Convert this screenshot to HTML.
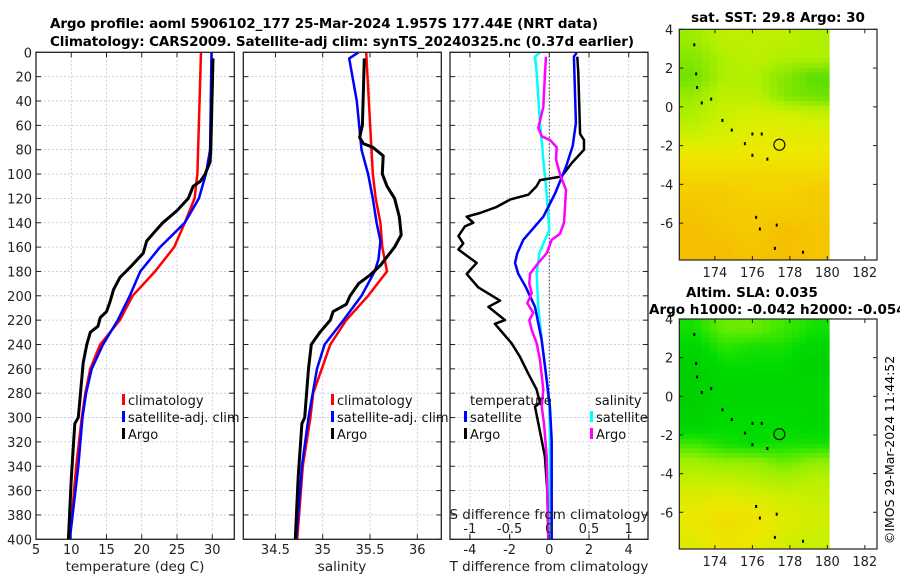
<!DOCTYPE html>
<html><head><meta charset="utf-8"><style>
html,body{margin:0;padding:0;background:#fff;}
svg{display:block;font-family:"DejaVu Sans","Liberation Sans",sans-serif;}
</style></head><body>
<svg id="fig" width="900" height="580" viewBox="0 0 900 580" xmlns="http://www.w3.org/2000/svg">
<rect width="900" height="580" fill="#fff"/>
<text x="324" y="28" font-size="13.5" font-weight="bold" text-anchor="middle" textLength="548">Argo profile: aoml 5906102_177 25-Mar-2024 1.957S 177.44E (NRT data)</text>
<text x="342" y="46" font-size="13.5" font-weight="bold" text-anchor="middle" textLength="584">Climatology: CARS2009. Satellite-adj clim: synTS_20240325.nc (0.37d earlier)</text>
<g id="panels"></g>
<g id="maps"></g>
<text transform="translate(894,450) rotate(-90)" font-size="12.5" text-anchor="middle">©IMOS 29-Mar-2024 11:44:52</text>
</svg>
<script>
// ---------- data ----------
const depthTicks=[0,20,40,60,80,100,120,140,160,180,200,220,240,260,280,300,320,340,360,380,400];
const tTicks=[5,10,15,20,25,30];
const sTicks=[34.5,35,35.5,36];
const dTTicks=[-4,-2,0,2,4];
const dSTicks=[-1,-0.5,0,0.5,1];
const dSTickLabels=["-1","-0.5","0","0.5","1"];

const climT_depth=[0,100,120,140,160,180,200,220,240,260,280,300,340,400];
const climT_vals=[28.4,27.9,27.5,26.1,24.6,21.9,18.7,16.9,14.1,12.7,12.0,11.5,10.7,9.8];
const satT_depth=[0,80,100,120,140,160,180,200,220,240,260,280,300,340,400];
const satT_vals=[29.9,29.7,29.1,28.1,26.1,22.6,19.8,18.3,16.6,14.5,12.9,12.1,11.6,11.0,9.8];
const argoT_depth=[5,80,90,100,106,110,120,130,140,145,155,165,175,185,195,205,213,218,225,230,240,255,300,305,350,400];
const argoT_vals=[30.1,29.8,29.7,29.0,28.3,27.3,26.6,25.0,23.0,22.2,20.7,20.2,18.6,16.9,16.0,15.5,15.0,14.1,13.8,12.7,12.2,11.7,11.0,10.5,10.0,9.6];

const climS_depth=[0,100,120,140,160,180,200,220,240,260,280,300,340,400];
const climS_vals=[35.46,35.53,35.56,35.61,35.63,35.68,35.48,35.25,35.08,34.99,34.90,34.87,34.79,34.73];
const satS_depth=[0,5,40,80,100,120,140,155,170,180,200,220,240,260,300,340,400];
const satS_vals=[35.38,35.28,35.36,35.41,35.48,35.53,35.57,35.61,35.59,35.55,35.41,35.22,35.02,34.94,34.85,34.78,34.72];
const argoS_depth=[5,60,70,75,78,85,100,110,120,135,150,160,167,175,183,190,200,207,213,220,230,240,260,300,305,350,400];
const argoS_vals=[35.44,35.42,35.39,35.43,35.53,35.64,35.63,35.68,35.76,35.81,35.83,35.76,35.69,35.61,35.50,35.38,35.29,35.25,35.11,35.08,34.97,34.88,34.85,34.81,34.78,34.74,34.71];

const dTsat_depth=[0.3,3.6,58,77,94,116,135,154,165,173,182,193,209,236,264,291,319,400];
const dTsat_vals=[1.38,1.24,1.34,1.18,0.84,0.29,-0.30,-1.31,-1.61,-1.73,-1.56,-1.18,-0.72,-0.39,-0.17,0.03,0.12,0.12];
const dTargo_depth=[3.6,17,67,72,80,91,102,105,110,117,121,127,132,135,140,143,151,157,162,173,182,193,204,209,220,223,231,239,250,264,277,288,291,305,319,332,360,400];
const dTargo_vals=[1.41,1.46,1.55,1.75,1.75,1.13,0.62,-0.47,-0.64,-1.06,-1.98,-2.65,-3.49,-4.16,-3.83,-4.25,-4.58,-4.33,-4.58,-3.66,-4.16,-3.58,-2.48,-3.07,-2.23,-2.74,-2.32,-1.90,-1.48,-1.06,-0.64,-0.47,-0.72,-0.55,-0.38,-0.22,-0.10,-0.05];
const dSsat_depth=[0,3.6,17,58,94,116,135,146,154,165,182,209,236,264,291,319,400];
const dSsat_vals=[-0.117,-0.18,-0.159,-0.117,-0.067,-0.033,-0.012,0,-0.054,-0.126,-0.159,-0.138,-0.096,-0.042,0,0.009,0.009];
const dSargo_depth=[3.6,17,45,62,69,72,78,88,100,113,127,140,149,154,165,173,182,190,198,206,214,220,228,239,253,277,291,305,332,400];
const dSargo_vals=[-0.042,-0.054,-0.075,-0.138,-0.096,0.009,0.093,0.084,0.135,0.21,0.198,0.185,0.135,0.03,-0.033,-0.138,-0.243,-0.252,-0.222,-0.277,-0.201,-0.252,-0.222,-0.159,-0.117,-0.075,-0.096,-0.067,-0.033,-0.012];

const lonTicks=[174,176,178,180,182];
const latTicks=[4,2,0,-2,-4,-6];
const sstGrid=[
[29.3,29.5,29.5,29.5,29.4],[29.2,29.4,29.5,29.4,29.4],[29.1,29.4,29.4,29.2,29.0],[29.3,29.5,29.5,29.2,29.1],
[29.4,29.6,29.7,29.7,29.6],[29.6,29.7,29.8,29.8,29.8],[29.9,29.9,29.9,29.9,29.9],[30.0,30.0,30.0,30.0,30.0],
[30.1,30.1,30.05,30.05,30.1],[30.15,30.1,30.1,30.1,30.1],[30.2,30.15,30.1,30.2,30.15],[30.2,30.2,30.15,30.2,30.15]];
const slaGrid=[
[0.06,0.10,0.10,0.08,0.06],[0.04,0.07,0.06,0.06,0.04],[0.02,0.05,0.05,0.05,0.02],[0.02,0.04,0.03,0.03,0.04],
[0.02,0.04,0.04,0.04,0.04],[0.03,0.05,0.05,0.05,0.04],[0.08,0.06,0.05,0.06,0.06],[0.13,0.12,0.12,0.10,0.12],
[0.16,0.16,0.15,0.14,0.15],[0.18,0.19,0.18,0.17,0.16],[0.19,0.21,0.20,0.18,0.17],[0.18,0.20,0.19,0.17,0.16]];
const islandLon=[172.9,173.0,173.05,173.3,173.8,174.4,174.9,175.6,176.0,176.5,176.0,176.8,176.2,176.4,177.3,177.2,178.7];
const islandLat=[3.2,1.7,1.0,0.2,0.4,-0.7,-1.2,-1.9,-1.4,-1.4,-2.5,-2.7,-5.7,-6.3,-6.1,-7.3,-7.5];
const argoLon=[177.44];
const argoLat=[-1.957];

// ---------- helpers ----------
const NS="http://www.w3.org/2000/svg";
function mk(tag,attrs,parent,txt){const e=document.createElementNS(NS,tag);for(const k in attrs)e.setAttribute(k,attrs[k]);if(txt!==undefined)e.textContent=txt;parent.appendChild(e);return e;}
const Y0=52.3,Y1=539.3;
const yD=d=>Y0+(d/400)*(Y1-Y0);
const panels=document.getElementById('panels');

function axesFrame(x0,x1,xt,xScale,xlabels,name,showY){
  const g=mk('g',{},panels);
  
  
  depthTicks.forEach(d=>{const l=mk('line',{x1:x0,x2:x1,y1:yD(d),y2:yD(d),stroke:'#b8c4e0','stroke-width':0.8,'stroke-dasharray':'2,2'},g);
    
    
    mk('line',{x1:x0,x2:x0+5,y1:yD(d),y2:yD(d),stroke:'#222'},g);mk('line',{x1:x1-5,x2:x1,y1:yD(d),y2:yD(d),stroke:'#222'},g);
    if(showY){const t=mk('text',{x:x0-4,y:yD(d)+5,'font-size':13,'text-anchor':'end',fill:'#222'},g,String(d));
      
      }
  });
  xt.forEach((v,i)=>{const x=xScale(v);
    const l=mk('line',{x1:x,x2:x,y1:Y0,y2:Y1,stroke:'#b8c4e0','stroke-width':0.8,'stroke-dasharray':'2,2'},g);
    
    
    mk('line',{x1:x,x2:x,y1:Y1-5,y2:Y1,stroke:'#222'},g);mk('line',{x1:x,x2:x,y1:Y0,y2:Y0+5,stroke:'#222'},g);
    const t=mk('text',{x:x,y:554,'font-size':13,'text-anchor':'middle',fill:'#222'},g,xlabels[i]);
    
    
  });
  return g;
}
function frame(g,x0,x1){const r=mk('rect',{x:x0,y:Y0,width:x1-x0,height:Y1-Y0,fill:'none',stroke:'#222','stroke-width':1.3},g);
  
  }
function line(g,xs,ds,xScale,color,w,name){
  const d=xs.map((v,i)=>(i?'L':'M')+xScale(v).toFixed(1)+','+yD(ds[i]).toFixed(1)).join(' ');
  const p=mk('path',{d:d,fill:'none',stroke:color,'stroke-width':w,'stroke-linejoin':'round'},g);
  
  
}
function legendEntry(g,x,y,color,label,name){
  const gg=mk('g',{},g);
  
  
  mk('rect',{x:x,y:y-11,width:3,height:11,fill:color},gg);
  mk('text',{x:x+6,y:y,'font-size':13,fill:'#111'},gg,label);
}

// Panel 1 temperature
const xT=v=>36+(v-5)*7.05;
const g1=axesFrame(36,234.3,tTicks,xT,tTicks.map(String),'temperature-panel',true);
line(g1,climT_vals,climT_depth,xT,'#f00',2.5,'climatology-temperature-line');
line(g1,satT_vals,satT_depth,xT,'#00f',2.5,'satellite-temperature-line');
line(g1,argoT_vals,argoT_depth,xT,'#000',3,'argo-temperature-line');
frame(g1,36,234.3);
legendEntry(g1,122,405,'#f00','climatology','legend-climatology');
legendEntry(g1,122,422,'#00f','satellite-adj. clim','legend-satellite-adj');
legendEntry(g1,122,439,'#000','Argo','legend-argo');
let t=mk('text',{x:135,y:571,'font-size':13.5,'text-anchor':'middle',fill:'#222'},g1,'temperature (deg C)');



// Panel 2 salinity
const xS=v=>322.7+(v-35)*94.6;
const g2=axesFrame(243.3,441.3,sTicks,xS,sTicks.map(String),'salinity-panel',false);
line(g2,climS_vals,climS_depth,xS,'#f00',2.5,'climatology-salinity-line');
line(g2,satS_vals,satS_depth,xS,'#00f',2.5,'satellite-salinity-line');
line(g2,argoS_vals,argoS_depth,xS,'#000',3,'argo-salinity-line');
frame(g2,243.3,441.3);
legendEntry(g2,331,405,'#f00','climatology','legend-climatology');
legendEntry(g2,331,422,'#00f','satellite-adj. clim','legend-satellite-adj');
legendEntry(g2,331,439,'#000','Argo','legend-argo');
t=mk('text',{x:342,y:571,'font-size':13.5,'text-anchor':'middle',fill:'#222'},g2,'salinity');



// Panel 3 differences
const xdT=v=>549.3+v*19.85;
const xdS=v=>549.3+v*79.4;
const g3=axesFrame(450,648,dTTicks,xdT,dTTicks.map(String),'difference-panel',false);
let zl=mk('line',{x1:549.3,x2:549.3,y1:Y0,y2:Y1,stroke:'#333','stroke-width':1,'stroke-dasharray':'1.5,2'},g3);


line(g3,dSsat_vals,dSsat_depth,xdS,'#0ff',2.5,'satellite-salinity-diff-line');
line(g3,dTargo_vals,dTargo_depth,xdT,'#000',2.5,'argo-temperature-diff-line');
line(g3,dTsat_vals,dTsat_depth,xdT,'#00f',2.5,'satellite-temperature-diff-line');
line(g3,dSargo_vals,dSargo_depth,xdS,'#f0f',2.5,'argo-salinity-diff-line');
dSTicks.forEach((v,i)=>{mk('line',{x1:xdS(v),x2:xdS(v),y1:Y1-5,y2:Y1,stroke:'#222'},g3);
  const tt=mk('text',{x:xdS(v),y:533,'font-size':13,'text-anchor':'middle',fill:'#222'},g3,dSTickLabels[i]);
  
  });
t=mk('text',{x:549,y:519,'font-size':13.5,'text-anchor':'middle',fill:'#222'},g3,'S difference from climatology');


frame(g3,450,648);
t=mk('text',{x:470,y:405,'font-size':13,fill:'#111'},g3,'temperature');


t=mk('text',{x:595,y:405,'font-size':13,fill:'#111'},g3,'salinity');


legendEntry(g3,464,422,'#00f','satellite','legend-temp-satellite');
legendEntry(g3,464,439,'#000','Argo','legend-temp-argo');
legendEntry(g3,590,422,'#0ff','satellite','legend-sal-satellite');
legendEntry(g3,590,439,'#f0f','Argo','legend-sal-argo');
t=mk('text',{x:549,y:571,'font-size':13.5,'text-anchor':'middle',fill:'#222'},g3,'T difference from climatology');



// ---------- maps ----------
const maps=document.getElementById('maps');
function rgbStr(a){return 'rgb('+a.map(Math.round).join(',')+')';}
function lerpCol(stops,v){
  if(v<=stops[0][0])return rgbStr(stops[0][1]);
  for(let i=1;i<stops.length;i++){if(v<=stops[i][0]){const a=stops[i-1],b=stops[i],f=(v-a[0])/(b[0]-a[0]);
    return rgbStr([0,1,2].map(k=>a[1][k]+(b[1][k]-a[1][k])*f));}}
  return rgbStr(stops[stops.length-1][1]);
}
const sstStops=[[29.0,[90,222,0]],[29.4,[176,240,0]],[29.7,[216,240,0]],[29.9,[238,232,0]],[30.05,[245,210,0]],[30.2,[245,190,0]]];
const slaStops=[[0.0,[0,200,0]],[0.05,[0,220,0]],[0.08,[60,232,0]],[0.12,[150,240,0]],[0.16,[200,240,0]],[0.19,[235,232,0]],[0.22,[245,215,0]]];
function sampleGrid(grid,fr,fc){
  const rows=grid.length,cols=grid[0].length;
  const r=Math.min(Math.max(fr-0.5,0),rows-1),c=Math.min(Math.max(fc-0.5,0),cols-1);
  const r0=Math.floor(r),c0=Math.floor(c),r1=Math.min(r0+1,rows-1),c1=Math.min(c0+1,cols-1);
  const a=r-r0,b=c-c0;
  return grid[r0][c0]*(1-a)*(1-b)+grid[r0][c1]*(1-a)*b+grid[r1][c0]*a*(1-b)+grid[r1][c1]*a*b;
}
function drawMap(top,bottom,grid,stops,name){
  const L=679.3,R=877,lonL=172.1,lonR=182.65,latT=4,latB=-7.9;
  const xL=lon=>L+(lon-lonL)*(R-L)/(lonR-lonL);
  const yL=lat=>top+(latT-lat)*(bottom-top)/(latT-latB);
  const g=mk('g',{},maps);
  
  
  const rows=grid.length,cols=grid[0].length,lonE=180.1,sub=4;
  const R2=rows*sub,C2=cols*sub;
  for(let r=0;r<R2;r++)for(let c=0;c<C2;c++){
    const la0=latT-r*(latT-latB)/R2,la1=latT-(r+1)*(latT-latB)/R2;
    const lo0=lonL+c*(lonE-lonL)/C2,lo1=lonL+(c+1)*(lonE-lonL)/C2;
    const v=sampleGrid(grid,(r+0.5)/sub,(c+0.5)/sub);
    const cell=mk('rect',{x:xL(lo0),y:yL(la0),width:xL(lo1)-xL(lo0)+0.4,height:yL(la1)-yL(la0)+0.4,fill:lerpCol(stops,v)},g);
    
    
  }
  islandLon.forEach((lo,i)=>{const d=mk('rect',{x:xL(lo)-1,y:yL(islandLat[i])-1.5,width:2,height:3,fill:'#000'},g);
    
    });
  const c=mk('circle',{cx:xL(argoLon[0]),cy:yL(argoLat[0]),r:5.5,fill:'none',stroke:'#111','stroke-width':1.2},g);
  
  
  const box=mk('rect',{x:L,y:top,width:R-L,height:bottom-top,fill:'none',stroke:'#222','stroke-width':1.2},g);
  
  
  lonTicks.forEach(lo=>{const x=xL(lo);mk('line',{x1:x,x2:x,y1:bottom-4,y2:bottom,stroke:'#222'},g);mk('line',{x1:x,x2:x,y1:top,y2:top+4,stroke:'#222'},g);
    const tt=mk('text',{x:x,y:bottom+17,'font-size':13,'text-anchor':'middle',fill:'#222'},g,String(lo));
    
    });
  latTicks.forEach(la=>{const y=yL(la);mk('line',{x1:L,x2:L+4,y1:y,y2:y,stroke:'#222'},g);mk('line',{x1:R-4,x2:R,y1:y,y2:y,stroke:'#222'},g);
    const tt=mk('text',{x:L-6,y:y+5,'font-size':13,'text-anchor':'end',fill:'#222'},g,String(la));
    
    });
  return g;
}
const m1=drawMap(29.3,260,sstGrid,sstStops,'sst-map');
t=mk('text',{x:778,y:22,'font-size':13.5,'font-weight':'bold','text-anchor':'middle'},m1,'sat. SST: 29.8 Argo: 30');


const m2=drawMap(319,549,slaGrid,slaStops,'sla-map');
t=mk('text',{x:752,y:297,'font-size':13.5,'font-weight':'bold','text-anchor':'middle'},m2,'Altim. SLA: 0.035');


t=mk('text',{x:649,y:314,'font-size':13.5,'font-weight':'bold'},m2,'Argo h1000: -0.042 h2000: -0.054');


</script>
</body></html>
